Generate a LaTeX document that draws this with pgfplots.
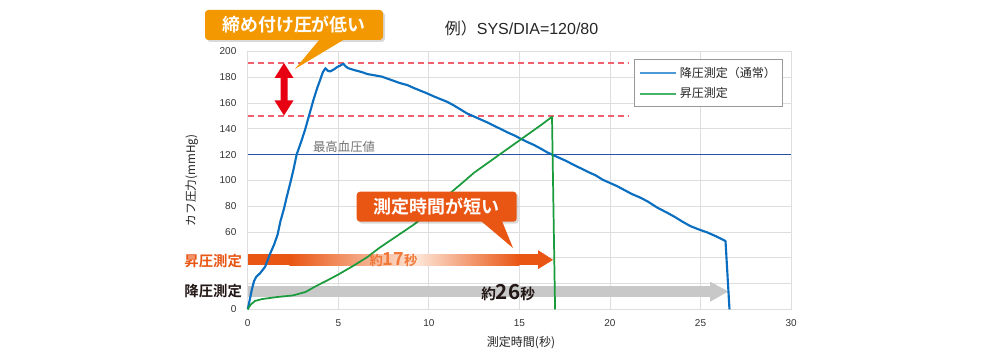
\documentclass[border=0pt]{standalone}
\usepackage{fontspec}
\setmainfont{Liberation Sans}
\newfontfamily\cjk{Noto Sans CJK JP}[BoldFont={Noto Sans CJK JP Bold}]
\usepackage{pgfplots}
\pgfplotsset{compat=1.18}
\definecolor{blueC}{HTML}{0A6FC0}
\definecolor{greenC}{HTML}{1A9B3C}
\definecolor{refblue}{HTML}{2D52A3}
\definecolor{dashred}{HTML}{F0606E}
\definecolor{orangeBox}{HTML}{F39800}
\definecolor{redorange}{HTML}{E95513}
\definecolor{arrowred}{HTML}{E60012}
\definecolor{graybar}{HTML}{C8C8C8}
\definecolor{gridgray}{HTML}{DEDEDE}
\definecolor{lightor}{HTML}{FDE6D8}
\definecolor{legblue}{HTML}{4D9AD6}
\definecolor{leggreen}{HTML}{45B46A}
\definecolor{txtor}{HTML}{F07838}
\definecolor{darktxt}{HTML}{231815}
\begin{document}
\begin{tikzpicture}
\fill[white] (0,0) rectangle (750pt,270pt);
\path[use as bounding box] (0,0) rectangle (750pt,270pt);
\begin{axis}[
  at={(185.8pt,38pt)}, anchor=south west, scale only axis,
  width=407.5pt, height=193.4pt,
  xmin=0, xmax=30, ymin=0, ymax=200,
  xtick={0,5,...,30}, ytick={0,20,...,200},
  yticklabels={0,,,60,80,100,120,140,160,180,200},
  grid=major, major grid style={draw=gridgray, line width=0.6pt},
  axis line style={draw=gridgray, line width=0.6pt},
  major tick length=0pt,
  tick label style={font=\fontsize{7.5}{9}\selectfont, text=black!80},
  /pgf/number format/assume math mode=true,
  xticklabel style={yshift=-4pt},
  yticklabel style={xshift=-5pt},
  clip=false,
  title={{\cjk 例）}SYS/DIA=120/80},
  title style={at={(axis description cs:0.504,1.0566)}, anchor=center, font=\fontsize{12}{14}\selectfont, text=black!85},
  xlabel={\cjk 測定時間(秒)},
  xlabel style={at={(axis description cs:0.503,-0.129)}, anchor=center, font=\fontsize{9}{10}\selectfont, text=black!85},
  ylabel={\cjk カフ圧力(mmHg)},
  ylabel style={at={(axis description cs:-0.103,0.5)}, anchor=center, font=\fontsize{8.8}{10}\selectfont, text=black!85},
  legend style={at={(rel axis cs:0.9853,0.969)}, anchor=north east, draw=black!40, line width=0.6pt,
    font=\cjk\fontsize{9}{11}\selectfont, inner sep=3.2pt, row sep=2.6pt, text=black!85},
  legend cell align=left,
  legend image code/.code={\draw[#1] (0pt,0pt) -- (27pt,0pt);},
]
\addlegendimage{legblue, line width=1.5pt}
\addlegendentry{降圧測定（通常）}
\addlegendimage{leggreen, line width=1.5pt}
\addlegendentry{昇圧測定}

% reference lines
\addplot[forget plot, color=refblue, line width=1.2pt] coordinates {(0,120) (30,120)};
\addplot[forget plot, color=dashred, line width=0.9pt, dash pattern=on 4.5pt off 3pt] coordinates {(0,191) (21,191)};
\addplot[forget plot, color=dashred, line width=0.9pt, dash pattern=on 4.5pt off 3pt] coordinates {(0,150) (21,150)};
\node[anchor=center, text=black!55, font=\cjk\fontsize{9.3}{11}\selectfont] at (axis cs:5.32,126.2) {最高血圧値};

% duration arrows
\fill[graybar] (axis cs:0,9.8) rectangle (axis cs:25.53,18.3);
\fill[graybar] (axis cs:25.53,21.4) -- (axis cs:26.54,13.9) -- (axis cs:25.53,5.9) -- cycle;
\fill[redorange] (axis cs:0,34.3) rectangle (axis cs:2.35,42.6);
\shade[left color=redorange, right color=lightor] (axis cs:2.3,34.3) rectangle (axis cs:9.3,42.6);
\shade[left color=lightor, right color=redorange] (axis cs:9.28,34.3) rectangle (axis cs:15.0,42.6);
\fill[redorange] (axis cs:14.98,34.3) rectangle (axis cs:16.05,42.6);
\fill[redorange] (axis cs:16.03,45.9) -- (axis cs:16.86,38.4) -- (axis cs:16.03,31.2) -- cycle;

% measured curves
\addplot[forget plot, color=blueC, line width=1.6pt, line join=round] coordinates {
(0,0) (0.12,8) (0.22,15) (0.35,22) (0.46,25) (0.68,28) (0.96,33) (1.23,43) (1.45,50) (1.65,58)
(1.8,68) (2.0,78) (2.15,87) (2.35,98) (2.52,108) (2.7,120) (2.95,130) (3.16,139) (3.4,151) (3.62,162)
(3.82,171) (4.0,178) (4.15,184) (4.29,187) (4.42,185) (4.55,184.5) (4.75,186) (4.95,188) (5.1,189) (5.28,190.5)
(5.4,188.5) (5.55,187) (5.9,185.5) (6.3,184) (6.6,182.5) (7.0,181.5) (7.4,180.5) (7.7,179) (8.0,177.5) (8.4,175.5)
(8.8,174) (9.2,171.5) (9.55,169.5) (9.9,167.5) (10.3,165) (10.65,163) (11.0,161) (11.4,158) (11.75,155) (12.1,152)
(12.5,149.5) (12.9,147) (13.3,144.5) (13.65,142) (13.95,140) (14.3,137.5) (14.7,135) (15.05,132.5) (15.4,130) (15.8,127.5)
(16.2,124.5) (16.5,122) (16.8,120) (17.2,117.5) (17.6,115) (18.0,112) (18.37,109.5) (18.8,106.5) (19.2,104) (19.6,100.5)
(20.0,98) (20.4,95.5) (20.8,92.5) (21.2,89.5) (21.7,86.5) (22.1,83.5) (22.6,79) (23.15,75) (23.6,71.5) (24.0,68)
(24.45,64.5) (24.9,62) (25.4,59.5) (25.8,57) (26.1,55) (26.38,53) (26.6,0)};
\addplot[forget plot, color=greenC, line width=1.3pt, line join=round] coordinates {
(0,0) (0.15,3.5) (0.4,6.5) (0.8,8) (1.6,9.5) (2.5,10.8) (3.2,13.5) (3.7,17.5) (4.4,22.5) (5.0,27)
(5.8,33.5) (6.6,40.5) (7.3,48) (8.2,56.5) (9.2,66) (10.2,77.5) (11.0,88) (11.8,97.5) (12.5,106) (13.2,113)
(14.0,121) (14.8,129) (15.6,137) (16.2,143) (16.8,149.3) (16.97,0)};

% arrow texts
\node[anchor=center, text=txtor, font=\cjk\bfseries] at (axis cs:8.05,38.4)
  {\fontsize{10}{12}\selectfont 約\fontsize{13.5}{14}\selectfont 17\fontsize{10}{12}\selectfont 秒};
\node[anchor=center, text=darktxt, font=\cjk\bfseries] at (axis cs:14.38,13.2)
  {\fontsize{11}{12}\selectfont 約\fontsize{15.5}{16}\selectfont 26\fontsize{11}{12}\selectfont 秒};
\node[anchor=east, inner sep=0pt, text=redorange, font=\cjk\bfseries\fontsize{10.8}{12}\selectfont] at (axis cs:-0.3,37.6) {昇圧測定};
\node[anchor=east, inner sep=0pt, text=darktxt, font=\cjk\bfseries\fontsize{10.8}{12}\selectfont] at (axis cs:-0.3,14.4) {降圧測定};
\end{axis}

\begin{scope}[x=0.75pt, y=-0.75pt, yshift=270pt]
  % callout 1
  \fill[black, opacity=0.15, rounded corners=2.5pt] (207,12) rectangle (385,42);
  \fill[orangeBox] (320,39) -- (345,39) -- (295,69) -- cycle;
  \fill[orangeBox, rounded corners=2.5pt] (205,10) rectangle (383,40);
  \node[text=white, font=\cjk\bfseries\fontsize{13.4}{15}\selectfont] at (294,25) {締め付け圧が低い};
  % callout 2
  \fill[black, opacity=0.15, rounded corners=2.5pt] (358.7,193.7) rectangle (518.7,223.7);
  \fill[redorange] (481,221) -- (502,221) -- (513,248) -- cycle;
  \fill[redorange, rounded corners=2.5pt] (356.7,191.7) rectangle (516.7,221.7);
  \node[text=white, font=\cjk\bfseries\fontsize{13.5}{15}\selectfont] at (436.7,206.5) {測定時間が短い};
  % red double arrow
  \fill[arrowred] (284,63) -- (293.5,78) -- (287.5,78) -- (287.5,100.5) -- (293.5,100.5) -- (284,115.5)
     -- (274.5,100.5) -- (280.5,100.5) -- (280.5,78) -- (274.5,78) -- cycle;
\end{scope}
\end{tikzpicture}
\end{document}
